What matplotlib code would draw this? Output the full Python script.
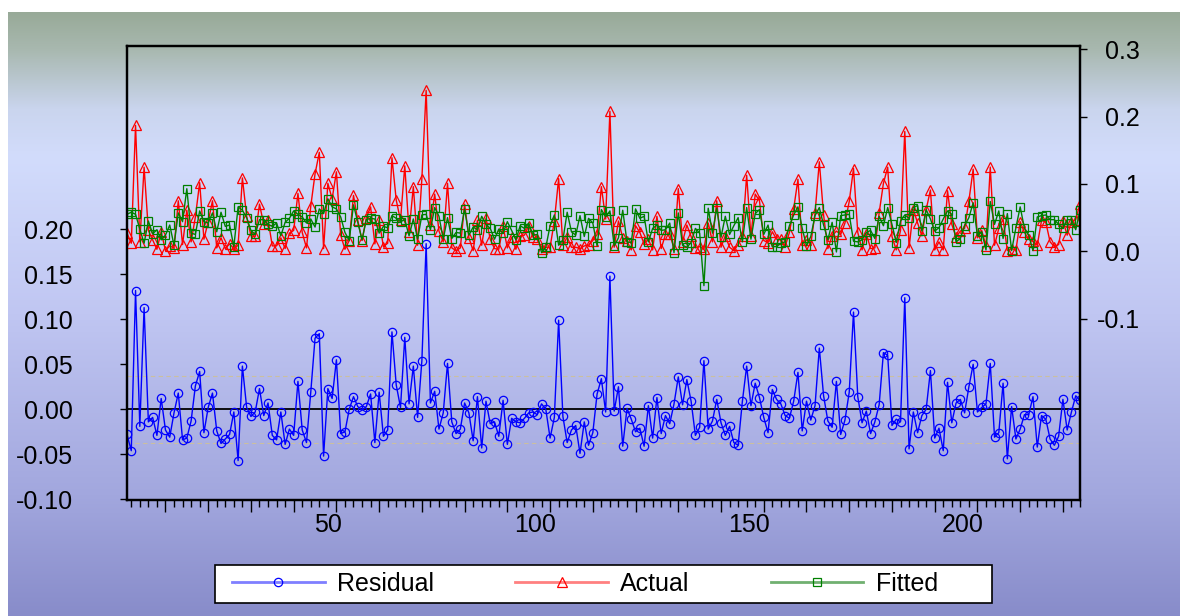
import numpy as np
import matplotlib
matplotlib.use("Agg")
import matplotlib.pyplot as plt
import matplotlib.transforms as mtransforms
from matplotlib.lines import Line2D
from matplotlib.patches import Rectangle
from matplotlib.ticker import FixedLocator, MultipleLocator

plt.rcParams["font.family"] = ["Liberation Sans", "DejaVu Sans"]

# --- data (observations 1..224) ---
residual = [
    -0.028, -0.046, 0.132, -0.019, 0.113, -0.014, -0.009, -0.029, 0.012, -0.023,
    -0.031, -0.004, 0.018, -0.034, -0.032, -0.013, 0.026, 0.042, -0.026, 0.002,
    0.018, -0.024, -0.038, -0.033, -0.028, -0.003, -0.057, 0.048, 0.002, -0.008,
    -0.003, 0.023, -0.007, 0.007, -0.029, -0.034, -0.003, -0.039, -0.022, -0.029,
    0.031, -0.023, -0.037, 0.019, 0.079, 0.084, -0.052, 0.023, 0.012, 0.055,
    -0.027, -0.025, 0.000, 0.014, 0.003, -0.001, 0.003, 0.017, -0.037, 0.019,
    -0.030, -0.023, 0.086, 0.027, 0.002, 0.080, 0.006, 0.048, -0.009, 0.054,
    0.184, 0.007, 0.020, -0.022, -0.004, 0.051, -0.014, -0.027, -0.022, 0.007,
    -0.004, -0.035, 0.014, -0.043, 0.009, -0.016, -0.014, -0.030, 0.010, -0.039,
    -0.010, -0.014, -0.015, -0.010, -0.004, -0.003, -0.006, 0.006, 0.000, -0.032,
    -0.009, 0.099, -0.008, -0.037, -0.023, -0.018, -0.049, -0.014, -0.040, -0.026,
    0.017, 0.034, -0.003, 0.148, -0.002, 0.025, -0.041, 0.001, -0.011, -0.025,
    -0.021, -0.041, 0.004, -0.032, 0.013, -0.027, -0.007, -0.016, 0.006, 0.036,
    0.005, 0.033, 0.009, -0.029, -0.020, 0.054, -0.022, -0.013, 0.011, -0.015,
    -0.029, -0.019, -0.037, -0.040, 0.009, 0.048, 0.004, 0.029, 0.013, -0.009,
    -0.026, 0.022, 0.011, 0.006, -0.007, -0.010, 0.009, 0.041, -0.024, 0.009,
    -0.012, 0.004, 0.068, 0.015, -0.013, -0.020, 0.031, -0.028, -0.012, 0.019,
    0.108, 0.014, -0.015, -0.002, -0.027, -0.014, 0.005, 0.063, 0.060, -0.018,
    -0.011, -0.014, 0.124, -0.044, -0.003, -0.026, -0.007, 0.000, 0.043, -0.032,
    -0.021, -0.046, 0.030, -0.015, 0.007, 0.011, -0.004, 0.025, 0.050, -0.003,
    0.002, 0.006, 0.051, -0.031, -0.026, 0.029, -0.055, 0.003, -0.033, -0.022,
    -0.006, -0.006, 0.014, -0.042, -0.007, -0.011, -0.033, -0.040, -0.030, 0.011,
    -0.023, -0.003, 0.015, 0.010,
]

actual = [
    0.027, 0.012, 0.187, 0.014, 0.125, 0.031, 0.017, 0.003, 0.029, 0.001,
    0.008, 0.005, 0.075, 0.010, 0.061, 0.014, 0.051, 0.102, 0.018, 0.044,
    0.075, 0.005, 0.020, 0.004, 0.011, 0.004, 0.009, 0.109, 0.052, 0.023,
    0.022, 0.070, 0.040, 0.047, 0.008, 0.008, 0.020, 0.004, 0.027, 0.031,
    0.086, 0.028, 0.005, 0.067, 0.115, 0.147, 0.004, 0.101, 0.078, 0.118,
    0.024, 0.003, 0.016, 0.083, 0.046, 0.016, 0.050, 0.066, 0.011, 0.046,
    0.007, 0.012, 0.139, 0.076, 0.046, 0.127, 0.029, 0.096, 0.009, 0.108,
    0.239, 0.039, 0.085, 0.030, 0.014, 0.101, 0.005, 0.001, 0.005, 0.070,
    0.020, 0.001, 0.046, 0.009, 0.049, 0.018, 0.004, 0.003, 0.037, 0.005,
    0.021, 0.003, 0.023, 0.024, 0.038, 0.021, 0.019, 0.004, 0.006, 0.006,
    0.045, 0.108, 0.009, 0.021, 0.006, 0.006, 0.004, 0.008, 0.009, 0.016,
    0.025, 0.096, 0.048, 0.208, 0.006, 0.045, 0.020, 0.015, 0.002, 0.038,
    0.028, 0.011, 0.018, 0.002, 0.052, 0.004, 0.025, 0.026, 0.004, 0.093,
    0.014, 0.039, 0.022, 0.005, 0.007, 0.003, 0.042, 0.014, 0.075, 0.006,
    0.023, 0.006, 0.001, 0.010, 0.023, 0.113, 0.022, 0.085, 0.075, 0.016,
    0.013, 0.029, 0.018, 0.018, 0.007, 0.028, 0.063, 0.107, 0.010, 0.017,
    0.010, 0.057, 0.133, 0.054, 0.004, 0.023, 0.030, 0.025, 0.042, 0.074,
    0.123, 0.028, 0.002, 0.026, 0.004, 0.005, 0.057, 0.101, 0.125, 0.022,
    0.002, 0.031, 0.178, 0.005, 0.062, 0.042, 0.023, 0.062, 0.091, 0.002,
    0.014, 0.002, 0.090, 0.040, 0.021, 0.030, 0.034, 0.075, 0.122, 0.020,
    0.031, 0.008, 0.125, 0.009, 0.034, 0.048, 0.001, 0.004, 0.002, 0.044,
    0.028, 0.018, 0.015, 0.009, 0.046, 0.043, 0.014, 0.007, 0.010, 0.045,
    0.024, 0.044, 0.047, 0.071,
]

fitted = [
    0.055, 0.058, 0.055, 0.033, 0.012, 0.045, 0.026, 0.032, 0.017, 0.024,
    0.039, 0.009, 0.057, 0.044, 0.093, 0.027, 0.025, 0.060, 0.044, 0.042,
    0.057, 0.029, 0.058, 0.037, 0.039, 0.007, 0.066, 0.061, 0.050, 0.031,
    0.025, 0.047, 0.047, 0.040, 0.037, 0.042, 0.023, 0.043, 0.049, 0.060,
    0.055, 0.051, 0.042, 0.048, 0.036, 0.063, 0.056, 0.078, 0.066, 0.063,
    0.051, 0.028, 0.016, 0.069, 0.043, 0.017, 0.047, 0.049, 0.048, 0.027,
    0.037, 0.035, 0.053, 0.049, 0.044, 0.047, 0.023, 0.048, 0.018, 0.054,
    0.055, 0.032, 0.065, 0.052, 0.018, 0.050, 0.019, 0.028, 0.027, 0.063,
    0.024, 0.036, 0.032, 0.052, 0.040, 0.034, 0.018, 0.033, 0.027, 0.044,
    0.031, 0.017, 0.038, 0.034, 0.042, 0.024, 0.025, -0.002, 0.006, 0.038,
    0.054, 0.009, 0.017, 0.058, 0.029, 0.024, 0.053, 0.022, 0.049, 0.042,
    0.008, 0.062, 0.051, 0.060, 0.008, 0.020, 0.061, 0.014, 0.013, 0.063,
    0.049, 0.052, 0.014, 0.034, 0.039, 0.031, 0.032, 0.042, -0.002, 0.057,
    0.009, 0.006, 0.013, 0.034, 0.027, -0.051, 0.064, 0.027, 0.064, 0.021,
    0.052, 0.025, 0.038, 0.050, 0.014, 0.065, 0.018, 0.056, 0.062, 0.025,
    0.039, 0.007, 0.007, 0.012, 0.014, 0.038, 0.054, 0.066, 0.034, 0.008,
    0.022, 0.053, 0.065, 0.039, 0.017, 0.043, -0.001, 0.053, 0.054, 0.055,
    0.015, 0.014, 0.017, 0.028, 0.031, 0.019, 0.052, 0.038, 0.065, 0.040,
    0.013, 0.045, 0.054, 0.049, 0.065, 0.068, 0.030, 0.062, 0.048, 0.030,
    0.035, 0.048, 0.060, 0.055, 0.014, 0.019, 0.038, 0.050, 0.072, 0.023,
    0.029, 0.002, 0.074, 0.040, 0.060, 0.019, 0.056, 0.001, 0.035, 0.066,
    0.034, 0.024, 0.001, 0.051, 0.053, 0.054, 0.047, 0.047, 0.040, 0.034,
    0.047, 0.047, 0.032, 0.061,
]

se_band = 0.037
left_ticks = [-0.10, -0.05, 0.00, 0.05, 0.10, 0.15, 0.20]
right_ticks = [-0.1, 0.0, 0.1, 0.2, 0.3]

W, H = 1180, 616
fig = plt.figure(figsize=(W / 100, H / 100), dpi=100)
fig.patch.set_facecolor("white")

# background gradient
bg = fig.add_axes([8 / W, 0, 1 - 8 / W, 1 - 12 / H], zorder=-10)
stops_pos = [0.0, 0.06, 0.16, 0.24, 0.5, 0.8, 1.0]
stops_rgb = np.array([
    (152, 170, 152), (168, 184, 175), (202, 213, 238), (210, 220, 252),
    (192, 198, 242), (162, 167, 222), (136, 140, 202),
]) / 255
t = np.linspace(0, 1, 400)
img = np.stack([np.interp(t, stops_pos, stops_rgb[:, c]) for c in range(3)], axis=1)
bg.imshow(img[:, None, :], aspect="auto", extent=[0, 1, 0, 1])
bg.axis("off")

ax = fig.add_axes([127 / W, 116 / H, 953 / W, 454 / H])
ax.patch.set_alpha(0)
obs = np.arange(1, len(residual) + 1)

ax.axhline(0, color="black", lw=1.3, zorder=1)
ax.axhline(se_band, color="#cbbf9f", lw=0.8, ls=(0, (4, 3)), zorder=1)
ax.axhline(-se_band, color="#cbbf9f", lw=0.8, ls=(0, (4, 3)), zorder=1)
ax.plot(obs, residual, color="blue", lw=1, marker="o", ms=6, mfc="none", mew=0.9, zorder=2)
ax.set_xlim(1, 224)
ax.set_ylim(-0.1008, 0.4037)

ax2 = ax.twinx()
ax2.plot(obs, actual, color="red", lw=1, marker="^", ms=6.5, mfc="none", mew=0.9)
ax2.plot(obs, fitted, color="#008000", lw=1, marker="s", ms=5.5, mfc="none", mew=0.9)
ax2.set_ylim(-0.3695, 0.305)

# axes styling
for a in (ax, ax2):
    for sp in a.spines.values():
        sp.set_linewidth(1.6)
        sp.set_color("black")

ax.yaxis.set_ticks_position("left")
ax.set_yticks(left_ticks)
ax.set_yticklabels([f"{v:.2f}" for v in left_ticks])
ax.tick_params(axis="y", direction="out", length=5, width=1, pad=34, labelsize=18)

ax2.set_yticks(right_ticks)
ax2.set_yticklabels([f"{v:.1f}" for v in right_ticks])
ax2.tick_params(axis="y", direction="out", length=5, width=1, pad=38, labelsize=18)
for lab in ax2.get_yticklabels():
    lab.set_ha("right")

xt = list(range(10, 225, 10))
ax.xaxis.set_major_locator(FixedLocator(xt))
ax.set_xticklabels([str(v) if v % 50 == 0 else "" for v in xt])
ax.xaxis.set_minor_locator(MultipleLocator(2))
ax.tick_params(axis="x", which="major", direction="out", length=8.6, width=1, pad=1, labelsize=18)
ax.tick_params(axis="x", which="minor", direction="out", length=5, width=1)
offset = mtransforms.ScaledTranslation(0.06, 0, fig.dpi_scale_trans)
for lab in ax.get_xticklabels():
    lab.set_ha("right")
    lab.set_transform(lab.get_transform() + offset)

# legend: white box with three entries
fig.patches.append(Rectangle((215 / W, 13 / H), 777 / W, 38 / H, transform=fig.transFigure,
                             facecolor="white", edgecolor="black", lw=1.2, zorder=5))
handles = [
    Line2D([], [], color="#7f7fff", lw=2, marker="o", ms=6, mfc="none", mec="blue", mew=0.9),
    Line2D([], [], color="#ff8080", lw=2, marker="^", ms=6.5, mfc="none", mec="red", mew=0.9),
    Line2D([], [], color="#70b070", lw=2, marker="s", ms=5.5, mfc="none", mec="#008000", mew=0.9),
]
leg = fig.legend(handles, ["Residual", "Actual", "Fitted"], loc="center left",
                 bbox_to_anchor=(232 / W, 1 - 584 / H), ncol=3, fontsize=18,
                 handlelength=3.7, handletextpad=0.5, columnspacing=3.25,
                 frameon=False, borderpad=0, borderaxespad=0)
leg.set_zorder(6)

fig.savefig("out.png", dpi=100)
